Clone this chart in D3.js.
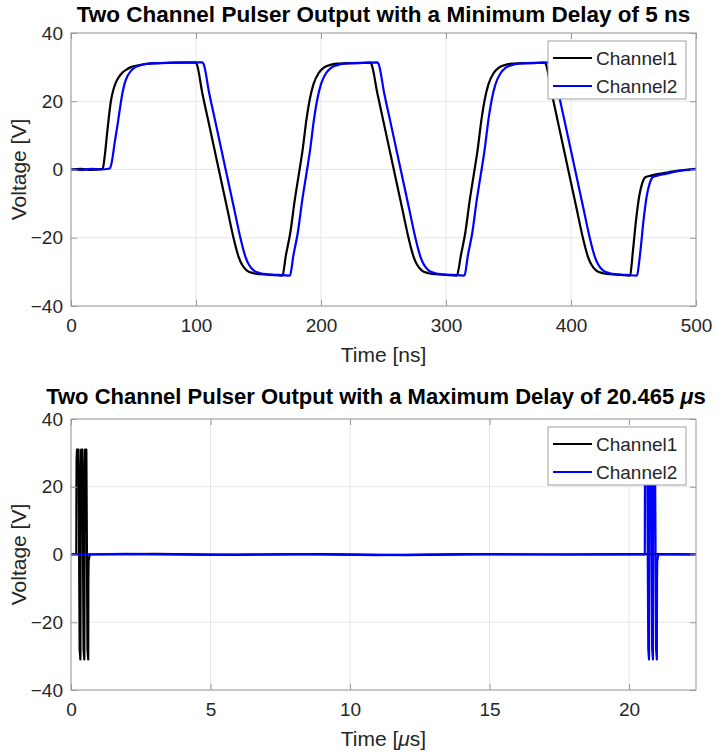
<!DOCTYPE html>
<html>
<head>
<meta charset="utf-8">
<script src="https://cdn.jsdelivr.net/npm/d3@7"></script>
<style>
  body { margin: 0; background: #fff; }
  svg { font-family: "Liberation Sans", Arial, sans-serif; }
</style>
</head>
<body>
<script>
// ---- data ----
// top panel: time in ns, voltage in V
const ch1Time = [0, 8, 16, 24, 25.5, 27, 29, 31.9, 34, 36, 38.5, 41.2, 44.5, 48, 52, 56, 63, 72, 85, 99.6,
  100.5, 105, 110, 115, 120, 125, 130, 134, 137, 141, 146, 152, 160, 168.6,
  169.2, 172, 175.4, 179, 182, 185, 188.7, 191, 194, 198, 202, 207, 213, 225, 239.3,
  240.2, 245, 250, 255, 260, 265, 270, 274, 277, 281, 286, 292, 300, 308.2,
  308.8, 312, 315.4, 319, 322, 325, 328.7, 331, 334, 338, 342, 347, 353, 365, 378.8,
  379.7, 384.5, 389.5, 394.5, 399.5, 404.5, 409.5, 413.5, 416.5, 420.5, 425.5, 431.5, 439.5, 446.6,
  447.3, 449.5, 452, 454.5, 457, 459.8, 464, 470, 478, 486, 494, 500];
const ch1Volt = [0, 0.2, -0.1, 0.1, 0.4, 4, 11, 20, 23.5, 25.6, 27.2, 28.4, 29.3, 30, 30.4, 30.7, 31, 31.2, 31.3, 31.3,
  31, 22.5, 14, 5.5, -3, -11.5, -20, -25.5, -28, -29.7, -30.4, -30.7, -30.9, -31.1,
  -31, -25, -18.6, -9, -2, 5, 15.5, 20.5, 25, 28.2, 29.8, 30.6, 31, 31.2, 31.3,
  31, 22.5, 14, 5.5, -3, -11.5, -20, -25.5, -28, -29.7, -30.4, -30.7, -30.9, -31.1,
  -31, -25, -18.6, -9, -2, 5, 15.5, 20.5, 25, 28.2, 29.8, 30.6, 31, 31.2, 31.3,
  31, 22.5, 14, 5.5, -3, -11.5, -20, -25.5, -28, -29.7, -30.4, -30.7, -30.9, -31.1,
  -31, -24, -15, -8, -4, -2.2, -1.8, -1.3, -0.8, -0.3, 0, 0.2];

const ch2Time = [0, 8, 16, 24, 31, 32.5, 35, 37.2, 39, 41.2, 43, 45.2, 48, 50.5, 55, 61, 70, 80, 92, 105,
  106, 110.5, 115.5, 120.5, 125.5, 130.5, 135.5, 139.5, 142.5, 146.5, 151.5, 157.5, 165.5, 174.6,
  175.2, 178, 181.4, 185, 188, 191, 194.7, 197, 200, 204, 208, 213, 219, 231, 245,
  246, 250.5, 255.5, 260.5, 265.5, 270.5, 275.5, 279.5, 282.5, 286.5, 291.5, 297.5, 305.5, 314.2,
  314.8, 317.6, 321, 324.6, 327.6, 330.6, 334.3, 336.6, 339.6, 343.6, 347.6, 352.6, 358.6, 370.6, 384.5,
  385.5, 390, 395, 400, 405, 410, 415, 419, 422, 426, 431, 437, 445, 452.2,
  452.8, 455.5, 458, 460.5, 463, 465.5, 469, 474, 480, 487, 494, 500];
const ch2Volt = [0, -0.1, 0.2, 0, 0.3, 2, 8, 13, 17.5, 22.5, 25.3, 27.4, 28.9, 29.8, 30.5, 31, 31.2, 31.3, 31.4, 31.4,
  31, 22.5, 14, 5.5, -3, -11.5, -20, -25.5, -28, -29.7, -30.4, -30.7, -30.9, -31.1,
  -31, -25, -18.6, -9, -2, 5, 15.5, 20.5, 25, 28.2, 29.8, 30.6, 31, 31.2, 31.4,
  31, 22.5, 14, 5.5, -3, -11.5, -20, -25.5, -28, -29.7, -30.4, -30.7, -30.9, -31.1,
  -31, -25, -18.6, -9, -2, 5, 15.5, 20.5, 25, 28.2, 29.8, 30.6, 31, 31.2, 31.4,
  31, 22.5, 14, 5.5, -3, -11.5, -20, -25.5, -28, -29.7, -30.4, -30.7, -30.9, -31.1,
  -31, -24, -15, -8, -4, -2.2, -1.8, -1.4, -0.9, -0.4, -0.1, 0.1];

// bottom panel: time in microseconds
const ch1LongTime = [0, 0.1, 0.19, 0.195, 0.2, 0.215, 0.27, 0.31, 0.337, 0.343, 0.35, 0.365, 0.41, 0.45, 0.477,
  0.483, 0.49, 0.505, 0.55, 0.59, 0.617, 0.622, 0.63, 0.67, 3, 6, 9, 12, 15, 18, 21, 22.4];
const ch1LongVolt = [0, 0.1, 0, 20, 28, 31, 31, -28, -31, -10, 25, 31, 31, -28, -31,
  -10, 25, 31, 31, -28, -31, -8, -2, 0, 0.2, -0.1, 0.1, -0.2, 0.1, 0, 0.1, 0];

const ch2LongTime = [0, 2, 5, 8, 11, 14, 17, 20, 20.565, 20.57, 20.575, 20.59, 20.65, 20.69, 20.717, 20.723,
  20.73, 20.745, 20.79, 20.83, 20.857, 20.862, 20.87, 20.885, 20.93, 20.97, 20.997, 21.002, 21.01, 21.05, 21.7, 22.4];
const ch2LongVolt = [0, 0.2, -0.1, 0.1, -0.2, 0.1, 0, 0.1, 0, 20, 28, 31, 31, -28, -31, -10,
  25, 31, 31, -28, -31, -10, 25, 31, 31, -28, -31, -8, -2, 0, 0.1, 0];

const seriesNames = ["Channel1", "Channel2"];
const seriesColors = ["#000000", "#0000ff"];
const yTickValues = [-40, -20, 0, 20, 40];
const nsTickValues = [0, 100, 200, 300, 400, 500];
const usTickValues = [0, 5, 10, 15, 20];

const width = 718, height = 752;
const margin = { left: 71, right: 22 };

const svg = d3.select("body").append("svg")
  .attr("width", width)
  .attr("height", height);

function zip(t, v) {
  return t.map((d, i) => [d, v[i]]);
}

function drawPanel(opt) {
  const x = d3.scaleLinear().domain(opt.xDomain).range([margin.left, width - margin.right]);
  const y = d3.scaleLinear().domain([-40, 40]).range([opt.bottom, opt.top]);
  const g = svg.append("g");

  // grid
  g.append("g").selectAll("line").data(opt.xTicks).join("line")
    .attr("x1", d => x(d)).attr("x2", d => x(d))
    .attr("y1", opt.top).attr("y2", opt.bottom)
    .attr("stroke", "#e6e6e6");
  g.append("g").selectAll("line").data(yTickValues).join("line")
    .attr("x1", x.range()[0]).attr("x2", x.range()[1])
    .attr("y1", d => y(d)).attr("y2", d => y(d))
    .attr("stroke", "#e6e6e6");

  // traces
  const clipId = "clip" + opt.top;
  g.append("clipPath").attr("id", clipId).append("rect")
    .attr("x", x.range()[0]).attr("y", opt.top)
    .attr("width", x.range()[1] - x.range()[0]).attr("height", opt.bottom - opt.top);
  const line = d3.line().x(d => x(d[0])).y(d => y(d[1])).curve(opt.curve);
  opt.series.forEach((s, i) => {
    g.append("path")
      .attr("clip-path", `url(#${clipId})`)
      .attr("d", line(s))
      .attr("fill", "none")
      .attr("stroke", seriesColors[i])
      .attr("stroke-width", 2.2)
      .attr("stroke-linejoin", "round");
  });

  // axes, ticks pointing inward on all four sides
  const axisColor = "#9a9a9a";
  const styleAxis = sel => {
    sel.select(".domain").remove();
    sel.selectAll(".tick line").attr("stroke", axisColor);
    sel.selectAll(".tick text").attr("fill", "#262626")
      .style("font-size", "19px").style("font-family", "Liberation Sans, Arial, sans-serif");
  };
  g.append("g").attr("transform", `translate(0,${opt.bottom})`)
    .call(d3.axisBottom(x).tickValues(opt.xTicks).tickSizeInner(-6).tickSizeOuter(0).tickPadding(13))
    .call(styleAxis);
  g.append("g").attr("transform", `translate(0,${opt.top})`)
    .call(d3.axisTop(x).tickValues(opt.xTicks).tickSizeInner(-6).tickSizeOuter(0).tickFormat(""))
    .call(styleAxis);
  g.append("g").attr("transform", `translate(${x.range()[0]},0)`)
    .call(d3.axisLeft(y).tickValues(yTickValues).tickSizeInner(-6).tickSizeOuter(0).tickPadding(8))
    .call(styleAxis);
  g.append("g").attr("transform", `translate(${x.range()[1]},0)`)
    .call(d3.axisRight(y).tickValues(yTickValues).tickSizeInner(-6).tickSizeOuter(0).tickFormat(""))
    .call(styleAxis);

  g.append("rect")
    .attr("x", x.range()[0]).attr("y", opt.top)
    .attr("width", x.range()[1] - x.range()[0]).attr("height", opt.bottom - opt.top)
    .attr("fill", "none").attr("stroke", axisColor);

  // labels
  const xl = g.append("text")
    .attr("x", (x.range()[0] + x.range()[1]) / 2)
    .attr("y", opt.bottom + 56)
    .attr("text-anchor", "middle")
    .attr("fill", "#262626")
    .style("font-size", "21px");
  opt.xLabel(xl);

  g.append("text")
    .attr("transform", `translate(26,${(opt.top + opt.bottom) / 2}) rotate(-90)`)
    .attr("text-anchor", "middle")
    .attr("fill", "#262626")
    .style("font-size", "21px")
    .text("Voltage [V]");

  const tt = g.append("text")
    .attr("x", opt.titleX)
    .attr("y", opt.top - opt.titleGap)
    .attr("text-anchor", "middle")
    .attr("fill", "#000")
    .style("font-size", opt.titleSize)
    .style("font-weight", "bold");
  opt.title(tt);

  // legend
  const lg = g.append("g").attr("transform", `translate(548,${opt.top + 8})`);
  lg.append("rect").attr("width", 138).attr("height", 58)
    .attr("fill", "#fff").attr("stroke", "#a0a0a0");
  seriesNames.forEach((name, i) => {
    const cy = 17 + i * 28;
    lg.append("line").attr("x1", 5).attr("x2", 44).attr("y1", cy).attr("y2", cy)
      .attr("stroke", seriesColors[i]).attr("stroke-width", 2.2);
    lg.append("text").attr("x", 48).attr("y", cy).attr("dy", "0.35em")
      .attr("fill", "#262626").style("font-size", "19px").text(name);
  });
}

drawPanel({
  top: 33, bottom: 306,
  xDomain: [0, 500], xTicks: nsTickValues,
  curve: d3.curveMonotoneX,
  series: [zip(ch1Time, ch1Volt), zip(ch2Time, ch2Volt)],
  titleX: 383.5, titleGap: 11, titleSize: "22.5px",
  xLabel: t => t.text("Time [ns]"),
  title: t => t.text("Two Channel Pulser Output with a Minimum Delay of 5 ns")
});

drawPanel({
  top: 419, bottom: 690,
  xDomain: [0, 22.4], xTicks: usTickValues,
  curve: d3.curveLinear,
  series: [zip(ch1LongTime, ch1LongVolt), zip(ch2LongTime, ch2LongVolt)],
  titleX: 376, titleGap: 15, titleSize: "22px",
  xLabel: t => {
    t.append("tspan").text("Time [");
    t.append("tspan").style("font-style", "italic").text("\u03bc");
    t.append("tspan").text("s]");
  },
  title: t => {
    t.append("tspan").text("Two Channel Pulser Output with a Maximum Delay of 20.465 ");
    t.append("tspan").style("font-style", "italic").text("\u03bc");
    t.append("tspan").text("s");
  }
});
</script>
</body>
</html>
